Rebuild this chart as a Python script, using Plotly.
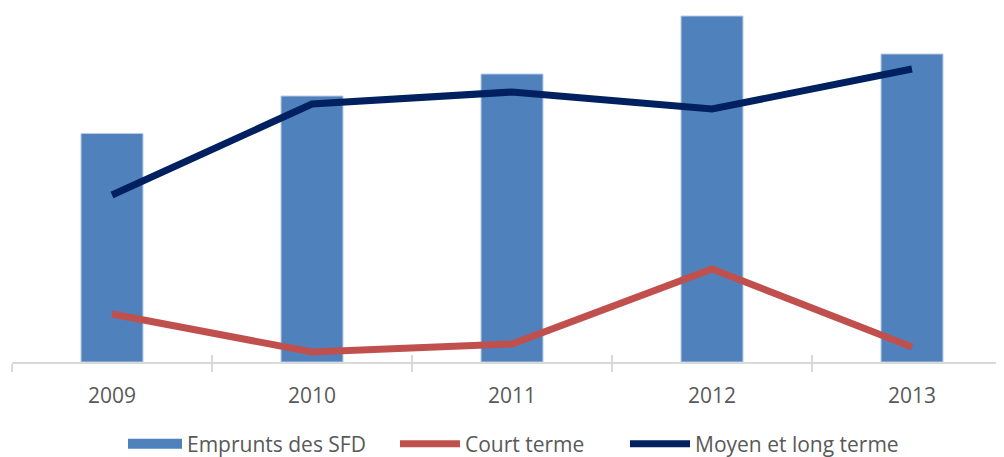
import plotly.graph_objects as go

years = ["2009", "2010", "2011", "2012", "2013"]
emprunts = [228.5, 266, 288, 346, 308]
court = [48, 10, 18, 93, 15]
moyen = [167, 258, 270, 253, 293]

BAR_C = "#4F81BD"
RED_C = "#C0504D"
NAVY_C = "#002060"

FIG_W, FIG_H = 996, 449

fig = go.Figure()
fig.add_trace(go.Bar(x=years, y=emprunts, name="Emprunts des SFD", showlegend=False,
                     marker=dict(color=BAR_C, line=dict(color="#B9CDE5", width=1)),
                     width=0.31))
# legend swatch for bars (wide rectangle like the original)
fig.add_trace(go.Scatter(x=years, y=[None]*5, name="Emprunts des SFD", mode="lines",
                         line=dict(color=BAR_C, width=14), hoverinfo="skip",
                         legend="legend"))
fig.add_trace(go.Scatter(x=years, y=court, name="Court terme", mode="lines",
                         line=dict(color=RED_C, width=7), legend="legend2"))
fig.add_trace(go.Scatter(x=years, y=moyen, name="Moyen et long terme", mode="lines",
                         line=dict(color=NAVY_C, width=7), legend="legend3"))
# overlay axis for the inner half of the crossing tick marks
fig.add_trace(go.Scatter(x=years, y=[None]*5, xaxis="x2", showlegend=False, hoverinfo="skip"))

def leg(xpx, iw):
    return dict(orientation="h", xref="container", yref="container",
                x=xpx / FIG_W, xanchor="left", y=13 / FIG_H, yanchor="middle",
                font=dict(size=21, color="#595959"), itemwidth=iw,
                bgcolor="rgba(0,0,0,0)", borderwidth=0)

fig.update_layout(
    width=FIG_W, height=FIG_H,
    margin=dict(l=4, r=0, t=0, b=95),
    plot_bgcolor="white", paper_bgcolor="white",
    font=dict(family="Open Sans", color="#595959"),
    xaxis=dict(type="category", range=[-0.5, 4.46], showgrid=False,
               showline=True, linecolor="#D9D9D9", linewidth=1.5,
               ticks="outside", ticklen=8, tickcolor="#D9D9D9", tickwidth=1.5,
               tickson="boundaries", tickfont=dict(size=21, color="#595959"),
               ticklabelstandoff=14),
    xaxis2=dict(type="category", overlaying="x", range=[-0.5, 4.46], showgrid=False,
                ticks="inside", ticklen=7, tickcolor="#D9D9D9", tickwidth=1.5,
                tickson="boundaries", showticklabels=False, side="bottom",
                anchor="y"),
    yaxis=dict(range=[0, 354], visible=False, showgrid=False),
    legend=leg(115, 54),
    legend2=leg(387, 60),
    legend3=leg(617, 60),
    showlegend=True,
)
fig.write_html("out.html")
